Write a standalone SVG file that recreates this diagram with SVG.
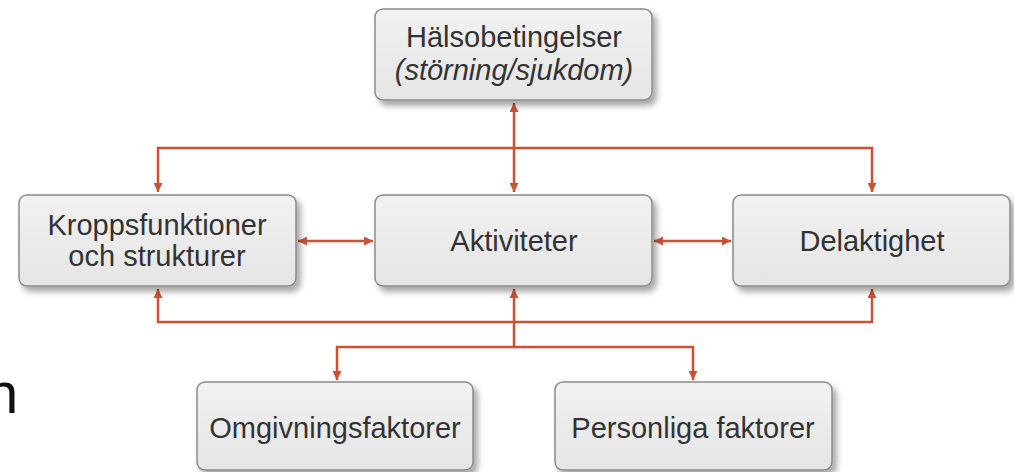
<svg xmlns="http://www.w3.org/2000/svg" width="1014" height="472" viewBox="0 0 1014 472">
<defs>
<linearGradient id="g" x1="0" y1="0" x2="0" y2="1">
<stop offset="0" stop-color="#f2f1f1"/>
<stop offset="1" stop-color="#e6e5e5"/>
</linearGradient>
<filter id="sh" x="-10%" y="-10%" width="125%" height="135%">
<feDropShadow dx="4" dy="5" stdDeviation="3" flood-color="#000" flood-opacity="0.35"/>
</filter>
<marker id="ah" viewBox="0 0 10 10" refX="10" refY="5" markerWidth="10" markerHeight="9" markerUnits="userSpaceOnUse" orient="auto-start-reverse">
<path d="M0,0 L10,5 L0,10 z" fill="#cc5134"/>
</marker>
<style>
.box{fill:url(#g);stroke:#8c8a8a;stroke-width:1.5;filter:url(#sh)}
.t{font-family:"Liberation Sans",Arial,sans-serif;font-size:29px;fill:#333;text-anchor:middle}
.c{fill:none;stroke:#cc5134;stroke-width:2.5}
</style>
</defs>
<rect width="1014" height="472" fill="#fff"/>
<text x="-14" y="413" font-family="Liberation Sans,Arial,sans-serif" font-size="58" fill="#111">n</text>
<g id="connectors">
<line class="c" x1="514" y1="103" x2="514" y2="192" marker-start="url(#ah)" marker-end="url(#ah)"/>
<path class="c" d="M158,192 V148 H872 V192" marker-start="url(#ah)" marker-end="url(#ah)"/>
<path class="c" d="M158,289 V322 H872 V289" marker-start="url(#ah)" marker-end="url(#ah)"/>
<line class="c" x1="514" y1="289" x2="514" y2="347" marker-start="url(#ah)"/>
<path class="c" d="M337,380 V347 H693 V380" marker-start="url(#ah)" marker-end="url(#ah)"/>
<line class="c" x1="298" y1="241" x2="373" y2="241" marker-start="url(#ah)" marker-end="url(#ah)"/>
<line class="c" x1="654" y1="241" x2="731" y2="241" marker-start="url(#ah)" marker-end="url(#ah)"/>
</g>
<g id="halsobetingelser">
<rect class="box" x="375" y="9" width="277" height="91" rx="8"/>
<text class="t" x="514" y="47">Hälsobetingelser</text>
<text class="t" x="514" y="80" font-style="italic">(störning/sjukdom)</text>
</g>
<g id="kroppsfunktioner">
<rect class="box" x="19" y="195" width="277" height="91" rx="8"/>
<text class="t" x="157" y="235">Kroppsfunktioner</text>
<text class="t" x="157" y="266">och strukturer</text>
</g>
<g id="aktiviteter">
<rect class="box" x="375" y="195" width="277" height="91" rx="8"/>
<text class="t" x="514" y="251">Aktiviteter</text>
</g>
<g id="delaktighet">
<rect class="box" x="733" y="195" width="277" height="91" rx="8"/>
<text class="t" x="872" y="251">Delaktighet</text>
</g>
<g id="omgivningsfaktorer">
<rect class="box" x="197" y="382" width="276" height="88" rx="8"/>
<text class="t" x="335" y="438">Omgivningsfaktorer</text>
</g>
<g id="personliga">
<rect class="box" x="555" y="382" width="277" height="88" rx="8"/>
<text class="t" x="693" y="438">Personliga faktorer</text>
</g>
</svg>
